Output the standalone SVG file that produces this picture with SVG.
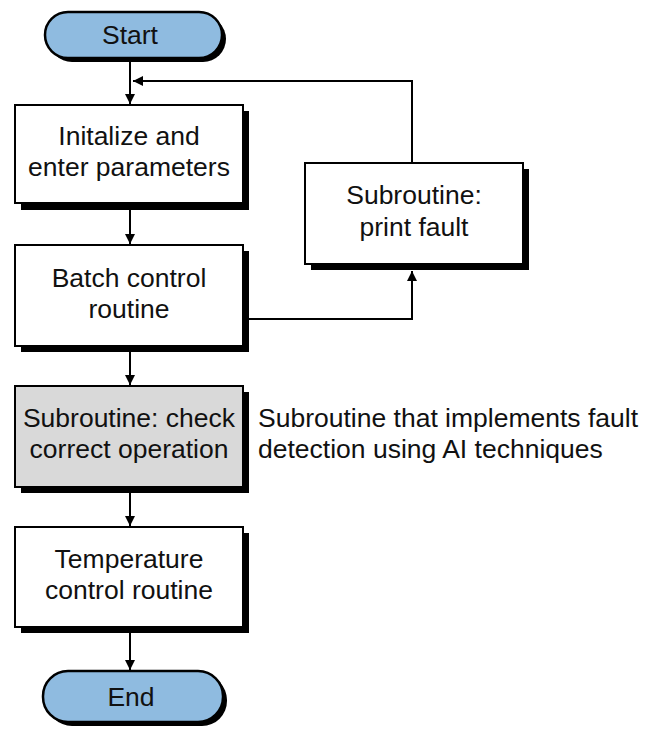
<svg xmlns="http://www.w3.org/2000/svg" width="649" height="730" viewBox="0 0 649 730">
<defs>
<style>
.t{font-family:"Liberation Sans",Arial,sans-serif;font-size:26.5px;fill:#111;text-anchor:middle}
.n{font-family:"Liberation Sans",Arial,sans-serif;font-size:26.5px;fill:#111}
.box{fill:#fff;stroke:#000;stroke-width:2}
.gray{fill:#d9d9d9;stroke:#000;stroke-width:2}
.term{fill:#8fbbe0;stroke:#000;stroke-width:2.5}
.sh{fill:#000}
.ln{fill:none;stroke:#000;stroke-width:2}
</style>
<marker id="ah" viewBox="0 0 10 10" refX="10" refY="5" markerWidth="10" markerHeight="10" markerUnits="userSpaceOnUse" orient="auto">
<path d="M0,0 L10,5 L0,10 Z" fill="#000"/>
</marker>
</defs>
<g id="connectors">
<line class="ln" x1="130" y1="60" x2="130" y2="104" marker-end="url(#ah)"/>
<polyline class="ln" points="412,163 412,81 133,81" marker-end="url(#ah)"/>
<line class="ln" x1="130" y1="209" x2="130" y2="244" marker-end="url(#ah)"/>
<polyline class="ln" points="248,319 412,319 412,271" marker-end="url(#ah)"/>
<line class="ln" x1="130" y1="352" x2="130" y2="385" marker-end="url(#ah)"/>
<line class="ln" x1="130" y1="493" x2="130" y2="526" marker-end="url(#ah)"/>
<line class="ln" x1="130" y1="633" x2="130" y2="670" marker-end="url(#ah)"/>
</g>
<g id="start">
<rect class="sh" x="49" y="16" width="177" height="46" rx="23"/>
<rect class="term" x="45" y="12" width="177" height="46" rx="23"/>
<text class="t" x="130" y="44">Start</text>
</g>
<g id="init">
<rect class="sh" x="21" y="111" width="228" height="99"/>
<rect class="box" x="15" y="105" width="228" height="98"/>
<text class="t" x="129" y="145">Initalize and</text>
<text class="t" x="129" y="176">enter parameters</text>
</g>
<g id="batch">
<rect class="sh" x="21" y="251" width="228" height="101"/>
<rect class="box" x="15" y="245" width="228" height="101"/>
<text class="t" x="129" y="287">Batch control</text>
<text class="t" x="129" y="318">routine</text>
</g>
<g id="print">
<rect class="sh" x="311" y="169" width="218" height="101"/>
<rect class="box" x="305" y="163" width="218" height="101"/>
<text class="t" x="414" y="204">Subroutine:</text>
<text class="t" x="414" y="236">print fault</text>
</g>
<g id="check">
<rect class="sh" x="21" y="392" width="228" height="101"/>
<rect class="gray" x="15" y="386" width="228" height="101"/>
<text class="t" x="129" y="427">Subroutine: check</text>
<text class="t" x="129" y="458">correct operation</text>
</g>
<g id="note">
<text class="n" x="258" y="427">Subroutine that implements fault</text>
<text class="n" x="258" y="458">detection using AI techniques</text>
</g>
<g id="temp">
<rect class="sh" x="21" y="533" width="228" height="100"/>
<rect class="box" x="15" y="527" width="228" height="100"/>
<text class="t" x="129" y="568">Temperature</text>
<text class="t" x="129" y="599">control routine</text>
</g>
<g id="end">
<rect class="sh" x="47" y="675" width="180" height="51" rx="25"/>
<rect class="term" x="43" y="671" width="180" height="51" rx="25"/>
<text class="t" x="131" y="706">End</text>
</g>
</svg>
